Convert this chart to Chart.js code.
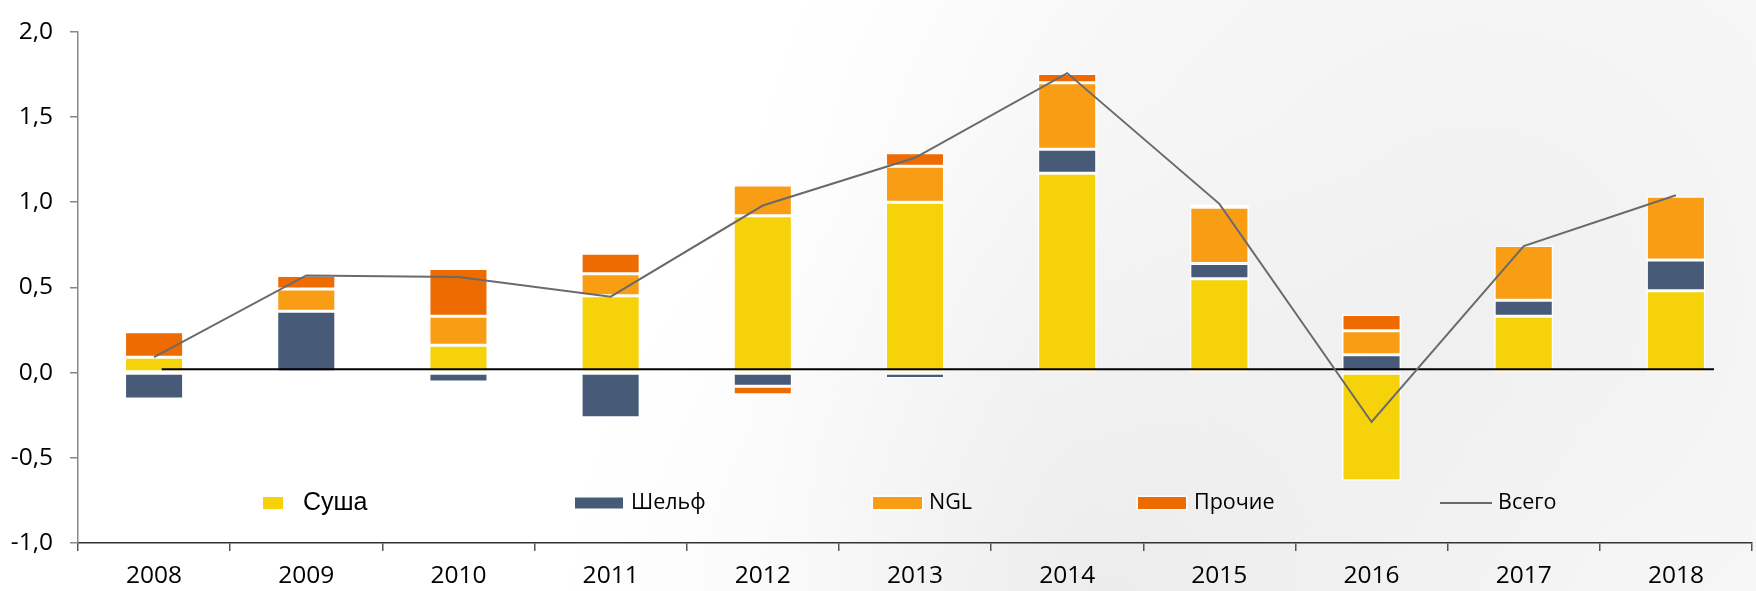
<!DOCTYPE html>
<html>
<head>
<meta charset="utf-8">
<script src="https://cdn.jsdelivr.net/npm/chart.js@4.4.1/dist/chart.umd.min.js"></script>
<style>
  html, body { margin: 0; padding: 0; background: #ffffff; }
  #wrap { width: 1756px; height: 591px; }
</style>
</head>
<body>
<div id="wrap"><canvas id="c" width="1756" height="591"></canvas></div>
<script>
// ---- Data ----
const categories = ['2008','2009','2010','2011','2012','2013','2014','2015','2016','2017','2018'];
const susha   = [0.09, 0.00, 0.16, 0.45, 0.92, 1.00, 1.17, 0.55, -0.635, 0.33, 0.48];
const shelf   = [-0.155, 0.36, -0.055, -0.265, -0.08, -0.035, 0.14, 0.09, 0.105, 0.095, 0.18];
const ngl     = [0.00, 0.13, 0.17, 0.13, 0.18, 0.21, 0.39, 0.33, 0.14, 0.32, 0.375];
const prochie = [0.15, 0.08, 0.28, 0.12, -0.05, 0.08, 0.055, 0.016, 0.095, 0.00, 0.00];
const total   = [0.09, 0.57, 0.56, 0.445, 0.98, 1.26, 1.757, 0.99, -0.29, 0.742, 1.04];
const seriesLabels = ['Суша', 'Шельф', 'NGL', 'Прочие', 'Всего'];
const yTicks = [-1.0, -0.5, 0.0, 0.5, 1.0, 1.5, 2.0];
// baseline rule drawn slightly above zero (as in the reference)
const baselineValue = 0.02;
const baselineSpan = [0.05, 10.25]; // in category-index units

const COLORS = {
  susha: '#F5D20A',
  shelf: '#475A78',
  ngl: '#F99D14',
  prochie: '#EE6B02',
  total: '#6A6A6A'
};

const bgPlugin = {
  id: 'bg',
  beforeDraw(chart) {
    const ctx = chart.ctx, w = chart.width, h = chart.height;
    ctx.save();
    ctx.fillStyle = '#ffffff';
    ctx.fillRect(0, 0, w, h);
    // soft grey wash on the right side
    let g = ctx.createRadialGradient(w * 0.84, h * 0.5, 20, w * 0.84, h * 0.5, w * 0.42);
    g.addColorStop(0.0, 'rgba(226,226,226,0.5)');
    g.addColorStop(0.6, 'rgba(230,230,230,0.32)');
    g.addColorStop(1.0, 'rgba(236,236,236,0)');
    ctx.fillStyle = g;
    ctx.fillRect(0, 0, w, h);
    // lower sweep
    let g2 = ctx.createRadialGradient(w * 0.62, h * 1.05, 20, w * 0.62, h * 1.05, w * 0.3);
    g2.addColorStop(0.0, 'rgba(222,222,222,0.45)');
    g2.addColorStop(1.0, 'rgba(232,232,232,0)');
    ctx.fillStyle = g2;
    ctx.fillRect(0, 0, w, h);
    ctx.restore();
  }
};

const legendPlugin = {
  id: 'customLegend',
  afterDraw(chart, args, opts) {
    const ctx = chart.ctx;
    const ds = chart.data.datasets;
    ctx.save();
    opts.items.forEach((it) => {
      const d = ds[it.dataset];
      const yc = opts.y;
      if (it.kind === 'box') {
        if (it.outline) {
          ctx.fillStyle = '#ffffff';
          ctx.fillRect(it.x - 1.5, yc - it.h / 2 - 1.5, it.w + 3, it.h + 3);
        }
        ctx.fillStyle = d.backgroundColor;
        ctx.fillRect(it.x, yc - it.h / 2, it.w, it.h);
      } else {
        ctx.strokeStyle = d.borderColor;
        ctx.lineWidth = 2;
        ctx.beginPath();
        ctx.moveTo(it.x, yc);
        ctx.lineTo(it.x + it.w, yc);
        ctx.stroke();
      }
      ctx.fillStyle = '#000000';
      ctx.font = it.font;
      ctx.textBaseline = 'middle';
      ctx.textAlign = 'left';
      ctx.fillText(d.label, it.tx, yc + (it.dy || 0));
    });
    ctx.restore();
  }
};

const fmt = (v) => v.toFixed(1).replace('.', ',');

const barCommon = {
  type: 'bar',
  borderColor: '#ffffff',
  borderWidth: 1.5,
  borderSkipped: false,
  barPercentage: 0.388,
  categoryPercentage: 1.0,
  grouped: false,
  stack: 'bars',
  order: 2
};

new Chart(document.getElementById('c'), {
  data: {
    labels: categories,
    datasets: [
      Object.assign({}, barCommon, { label: seriesLabels[0], data: susha, backgroundColor: COLORS.susha }),
      Object.assign({}, barCommon, { label: seriesLabels[1], data: shelf, backgroundColor: COLORS.shelf }),
      Object.assign({}, barCommon, { label: seriesLabels[2], data: ngl, backgroundColor: COLORS.ngl }),
      Object.assign({}, barCommon, { label: seriesLabels[3], data: prochie, backgroundColor: COLORS.prochie }),
      {
        type: 'line', label: seriesLabels[4], data: total,
        borderColor: COLORS.total, borderWidth: 2, pointRadius: 0,
        tension: 0, stack: 'total', order: 0, fill: false
      },
      {
        type: 'line', label: 'baseline',
        data: baselineSpan.map(x => ({ x: x, y: baselineValue })),
        xAxisID: 'x2', borderColor: '#000000', borderWidth: 2, pointRadius: 0,
        stack: 'baseline', order: 1, fill: false
      }
    ]
  },
  options: {
    responsive: false,
    devicePixelRatio: 1,
    animation: false,
    layout: { padding: { top: 15, right: 4, left: 0, bottom: 0 } },
    plugins: {
      legend: { display: false },
      tooltip: { enabled: false },
      customLegend: {
        y: 503,
        items: [
          { dataset: 0, kind: 'box', x: 263, w: 20, h: 12, tx: 303, font: '25px "Liberation Sans", Arial, sans-serif', dy: 0 },
          { dataset: 1, kind: 'box', x: 575, w: 48, h: 11, tx: 631, font: '21.5px "Open Sans", sans-serif', dy: 0 },
          { dataset: 2, kind: 'box', x: 873, w: 49, h: 12, tx: 929, font: '21.5px "Open Sans", sans-serif', outline: true, dy: 0 },
          { dataset: 3, kind: 'box', x: 1138, w: 48, h: 12, tx: 1194, font: '21.5px "Open Sans", sans-serif', outline: true, dy: 0 },
          { dataset: 4, kind: 'line', x: 1440, w: 52, tx: 1498, font: '21.5px "Open Sans", sans-serif', dy: 0 }
        ]
      }
    },
    scales: {
      x: {
        type: 'category',
        stacked: true,
        offset: true,
        grid: { display: true, offset: true, drawOnChartArea: false, drawTicks: true, tickLength: 8, color: '#555555', lineWidth: 1.5 },
        border: { display: true, color: '#333333', width: 1.5 },
        ticks: { color: '#000000', font: { family: '"Open Sans", sans-serif', size: 24.5 }, padding: 10, maxRotation: 0 },
        afterFit(scale) { scale.height = 48; }
      },
      x2: {
        type: 'linear',
        display: false,
        min: -0.5,
        max: 10.5
      },
      y: {
        stacked: true,
        min: yTicks[0],
        max: yTicks[yTicks.length - 1],
        afterBuildTicks(scale) { scale.ticks = yTicks.map(v => ({ value: v })); },
        grid: { display: true, drawOnChartArea: false, drawTicks: true, tickLength: 8, color: '#888888', lineWidth: 1.5 },
        border: { display: true, color: '#888888', width: 1.5 },
        ticks: { color: '#000000', font: { family: '"Open Sans", sans-serif', size: 24.5 }, padding: 17, callback: (v) => fmt(v) },
        afterFit(scale) { scale.width = 78; }
      }
    }
  },
  plugins: [bgPlugin, legendPlugin]
});
</script>
</body>
</html>
